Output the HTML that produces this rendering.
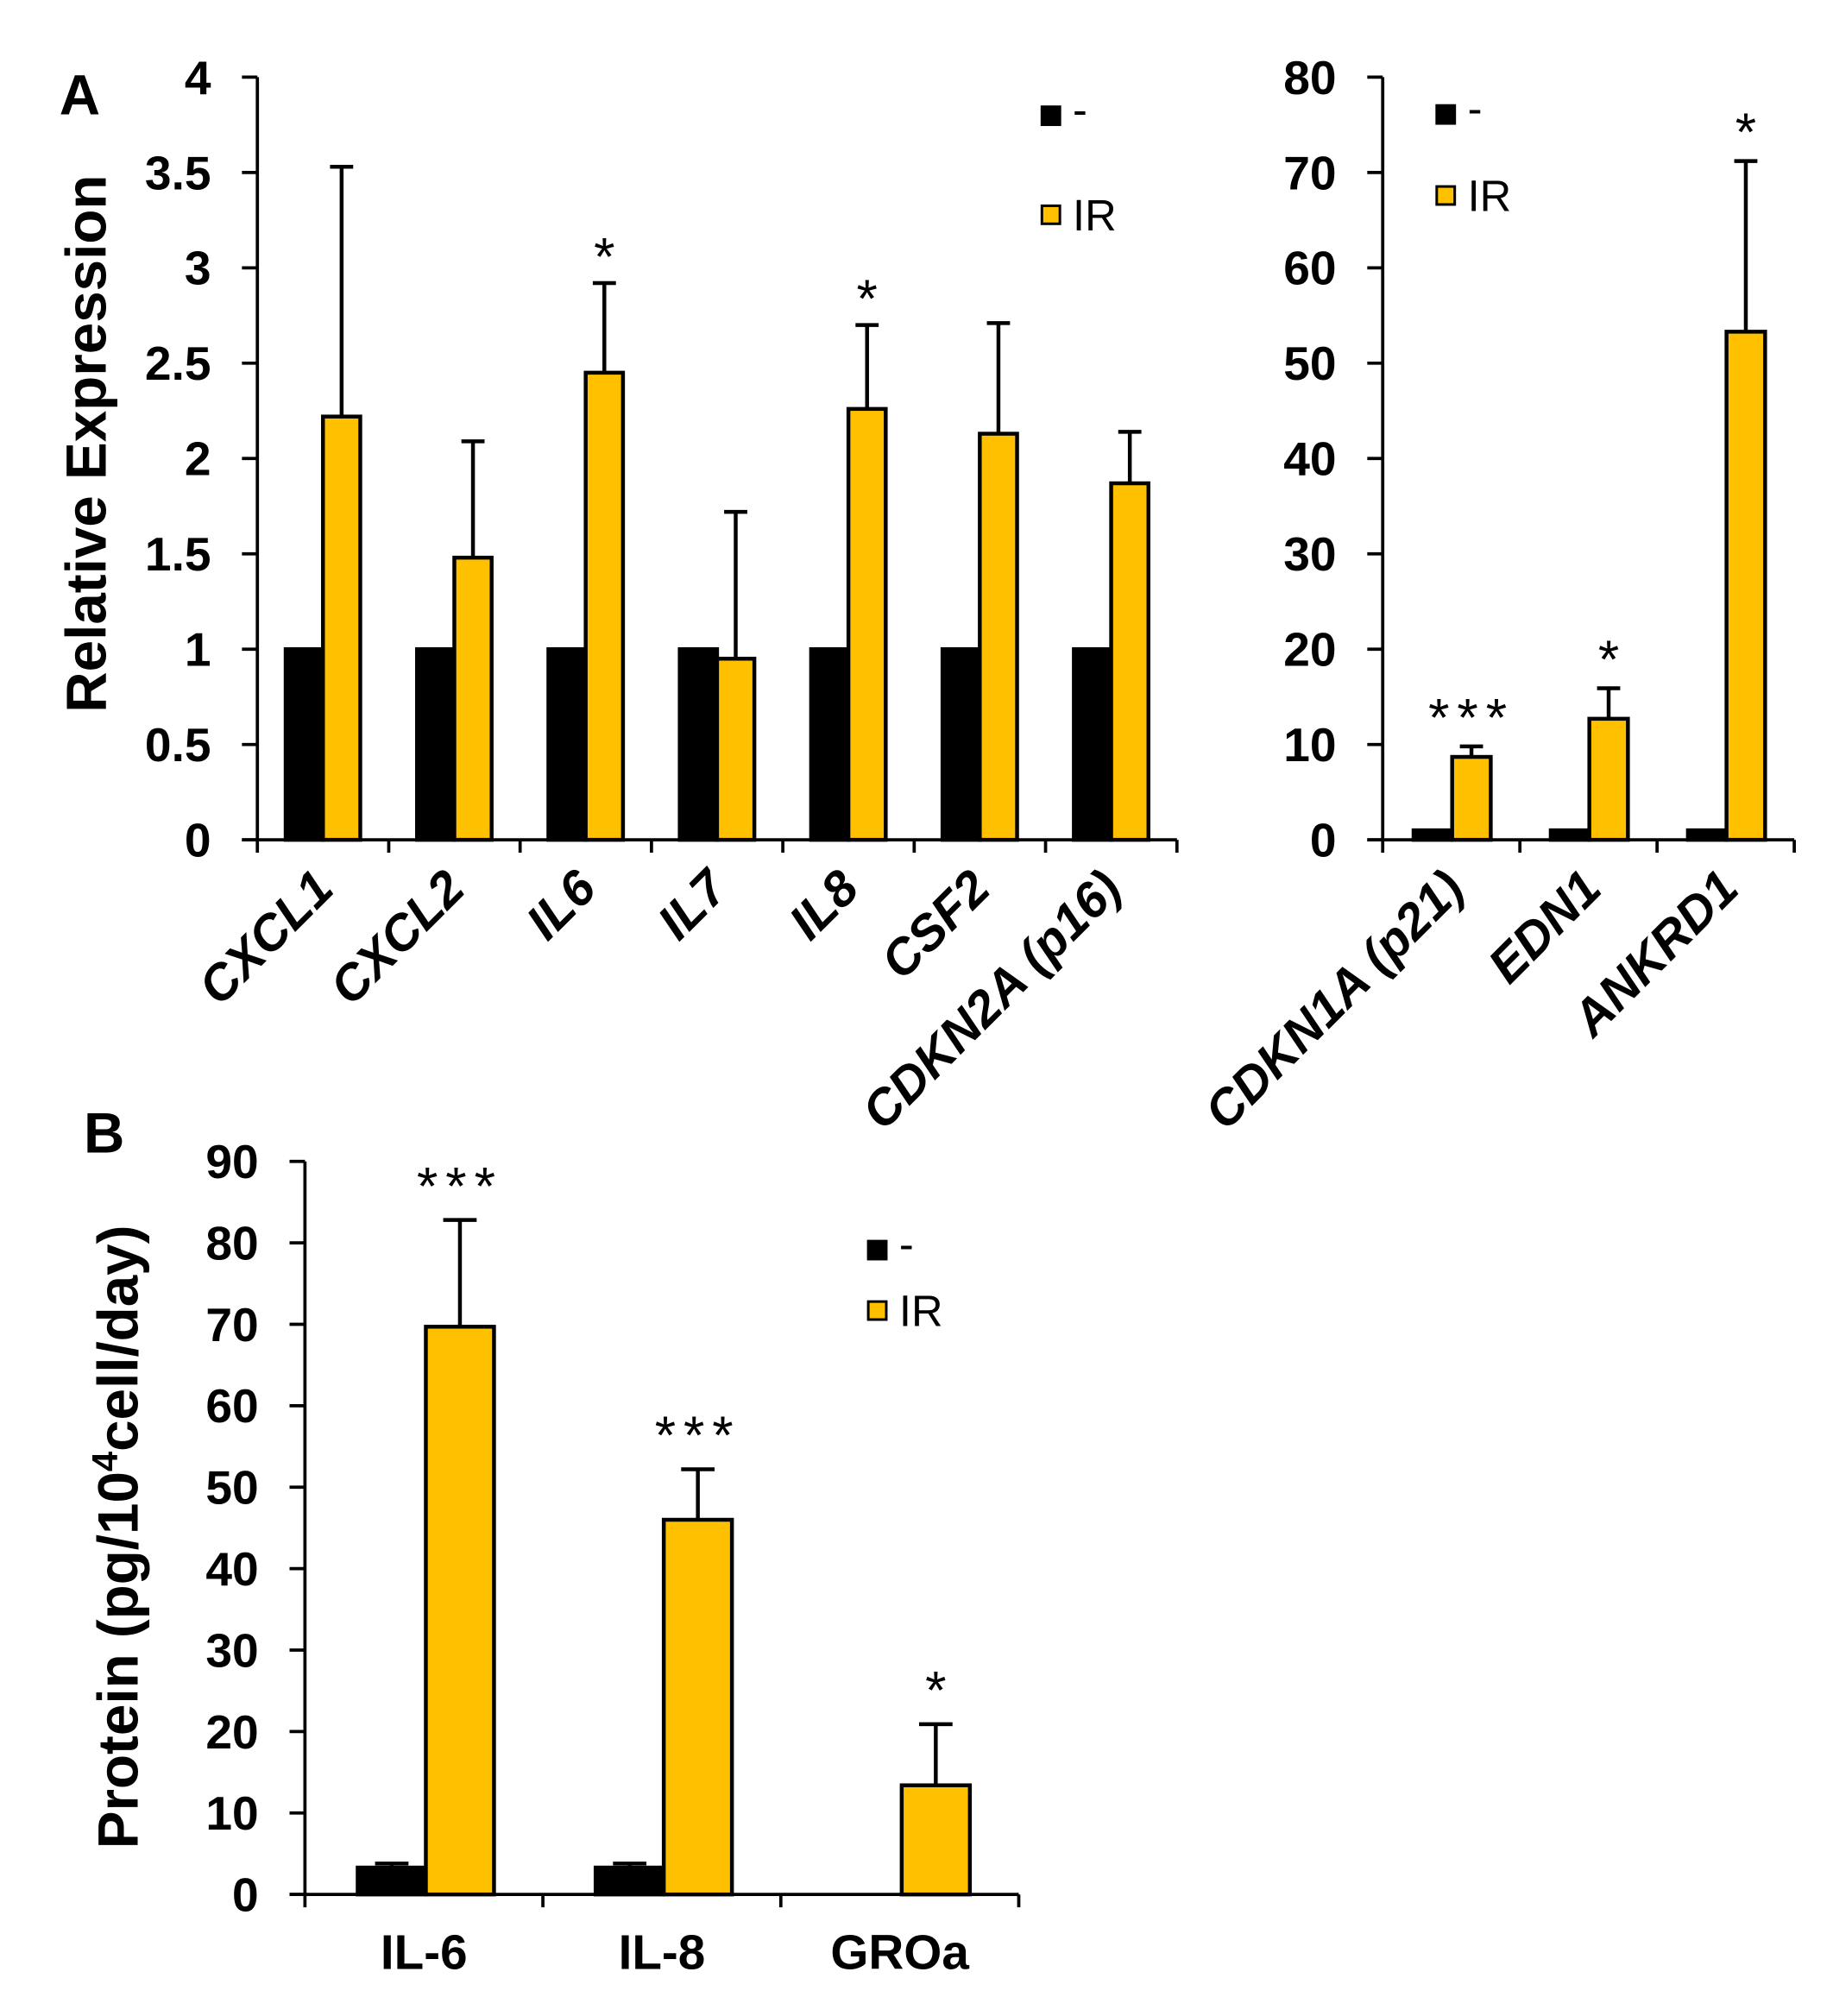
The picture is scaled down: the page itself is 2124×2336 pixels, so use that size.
<!DOCTYPE html>
<html><head><meta charset="utf-8"><style>
html,body{margin:0;padding:0;background:#fff}
svg{display:block}
text{font-family:"Liberation Sans",Arial,sans-serif;font-weight:bold;fill:#000}
text.n{font-weight:normal}
</style></head><body>
<svg id="fig" width="2124" height="2336" viewBox="0 0 1425 1567.5" xmlns="http://www.w3.org/2000/svg">
<text x="46" y="89" font-size="44">A</text>
<text x="65" y="896" font-size="44">B</text>
</svg>
<script>
// Panel A left data
const aCats = ["CXCL1","CXCL2","IL6","IL7","IL8","CSF2","CDKN2A (p16)"];
const aCtrl = [1,1,1,1,1,1,1];
const aIR = [2.22,1.48,2.45,0.95,2.26,2.13,1.87];
const aIRErr = [3.53,2.09,2.92,1.72,2.70,2.71,2.14];
const aStars = ["","","*","","*","",""];
const aTicks = ["0","0.5","1","1.5","2","2.5","3","3.5","4"];
// Panel A right data
const rCats = ["CDKN1A (p21)","EDN1","ANKRD1"];
const rCtrl = [1,1,1];
const rIR = [8.7,12.7,53.3];
const rIRErr = [9.8,15.9,71.2];
const rStars = ["***","*","*"];
const rTicks = ["0","10","20","30","40","50","60","70","80"];
// Panel B data
const bCats = ["IL-6","IL-8","GROa"];
const bCtrl = [3.3,3.3,0];
const bCtrlErr = [3.8,3.8,0];
const bIR = [69.7,46.0,13.4];
const bIRErr = [82.8,52.2,20.9];
const bStars = ["***","***","*"];
const bTicks = ["0","10","20","30","40","50","60","70","80","90"];

const svg=document.getElementById('fig');
const NS="http://www.w3.org/2000/svg";
function el(tag,attrs,parent,text){const e=document.createElementNS(NS,tag);for(const k in attrs)e.setAttribute(k,attrs[k]);if(text!==undefined)e.textContent=text;(parent||svg).appendChild(e);return e;}

function chart(o){
  const g=el('g',{});
  
  
  const y=v=>o.y0-(v/o.max)*(o.y0-o.yTop);
  const n=o.cats.length, cw=(o.x1-o.x0)/n;
  const ya=el('line',{x1:o.x0,y1:o.yTop,x2:o.x0,y2:o.y0,stroke:'#000','stroke-width':2.5},g);
  
  
  const xa=el('line',{x1:o.x0-12,y1:o.y0,x2:o.x1,y2:o.y0,stroke:'#000','stroke-width':2.5},g);
  
  
  o.ticks.forEach((t,i)=>{
    const v=parseFloat(t), yy=y(v);
    el('line',{x1:o.x0-12,y1:yy,x2:o.x0,y2:yy,stroke:'#000','stroke-width':2.5},g);
    const tl=el('text',{x:o.x0-36,y:yy+13,'font-size':o.tickFs,'text-anchor':'end'},g,t);
    
    
  });
  for(let i=0;i<=n;i++){const xx=o.x0+i*cw;el('line',{x1:xx,y1:o.y0,x2:xx,y2:o.y0+10,stroke:'#000','stroke-width':2.5},g);}
  o.cats.forEach((c,i)=>{
    const cx0=o.x0+i*cw, bx=cx0+o.off;
    function bar(v,err,x,fill,nm){
      if(v<=0)return;
      if(err!==undefined && err>v){
        el('line',{x1:x+o.bw/2,y1:y(err),x2:x+o.bw/2,y2:y(v),stroke:'#000','stroke-width':3},g);
        el('line',{x1:x+o.bw/2-o.cap,y1:y(err),x2:x+o.bw/2+o.cap,y2:y(err),stroke:'#000','stroke-width':3},g);
      }
      const r=el('rect',{x:x,y:y(v),width:o.bw,height:o.y0-y(v),fill:fill,stroke:'#000','stroke-width':3},g);
      
      
    }
    bar(o.ctrl[i],o.ctrlErr?o.ctrlErr[i]:undefined,bx,'#000','bar-control-'+c);
    bar(o.ir[i],o.irErr[i],bx+o.bw,'#FFC000','bar-ir-'+c);
    if(o.stars[i]){
      const s=el('text',{x:bx+o.bw*1.5,y:y(o.irErr[i])-o.starGap,'font-size':42,'class':'n','text-anchor':'middle','letter-spacing':o.stars[i].length>1?6:0},g,o.stars[i]);
      
      
    }
    const lx=cx0+cw/2+o.labShift;
    let lab;
    if(o.rot){
      lab=el('text',{x:lx,y:o.y0+40,'font-size':o.labFs,'font-style':'italic','text-anchor':'end',transform:`rotate(-45 ${lx} ${o.y0+40})`},g,c);
    } else {
      lab=el('text',{x:lx,y:o.y0+58,'font-size':o.labFs,'text-anchor':'middle'},g,c);
    }
    
    
  });
  const l1=el('rect',{x:o.leg[0],y:o.leg[1],width:14,height:14,fill:'#000',stroke:'#000','stroke-width':2},g);
  
  
  const t1=el('text',{x:o.leg[0]+24,y:o.leg[1]+14,'font-size':34,'class':'n'},g,'-');
  
  
  const l2=el('rect',{x:o.leg[0],y:o.leg[2],width:14,height:14,fill:'#FFC000',stroke:'#000','stroke-width':2},g);
  
  
  const t2=el('text',{x:o.leg[0]+24,y:o.leg[2]+19,'font-size':34,'class':'n'},g,'IR');
  
  
}

chart({name:'panel-a-left-chart',cats:aCats,ctrl:aCtrl,ir:aIR,irErr:aIRErr,stars:aStars,ticks:aTicks,max:4,
  x0:200,x1:915,y0:653,yTop:60,off:22,bw:29,cap:9,tickFs:37,labFs:39,rot:true,labShift:10,starGap:6,leg:[810,83,160]});
chart({name:'panel-a-right-chart',cats:rCats,ctrl:rCtrl,ir:rIR,irErr:rIRErr,stars:rStars,ticks:rTicks,max:80,
  x0:1075,x1:1395,y0:653,yTop:60,off:24,bw:30,cap:9,tickFs:37,labFs:39,rot:true,labShift:12,starGap:8,leg:[1117,82,145]});
chart({name:'panel-b-chart',cats:bCats,ctrl:bCtrl,ctrlErr:bCtrlErr,ir:bIR,irErr:bIRErr,stars:bStars,ticks:bTicks,max:90,
  x0:237,x1:792,y0:1473,yTop:903,off:41,bw:53,cap:13,tickFs:37,labFs:38,rot:false,labShift:0,starGap:12,leg:[675,965,1012]});

const t1=el('text',{x:0,y:0,'font-size':44,'text-anchor':'middle',transform:'translate(82 345) rotate(-90)'},svg,'Relative Expression');


const t2=el('text',{x:0,y:0,'font-size':44,'text-anchor':'middle',transform:'translate(107 1195) rotate(-90)'},svg);


el('tspan',{},t2,'Protein (pg/10');
el('tspan',{'font-size':28,dy:-16},t2,'4');
el('tspan',{dy:16},t2,'cell/day)');
</script>
</body></html>
